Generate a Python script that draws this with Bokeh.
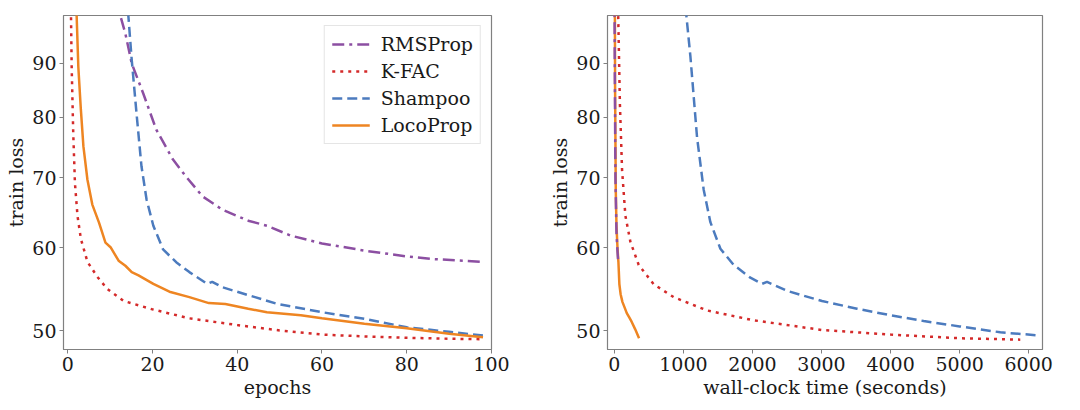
from bokeh.plotting import figure
from bokeh.layouts import row
from bokeh.models import Range1d, FixedTicker, PrintfTickFormatter
from bokeh.embed import file_html
from bokeh.resources import INLINE

# ---------------- data: loss vs epochs ----------------
rms_ep = [12.0, 12.4, 13.6, 15.1, 17.8, 20.9, 24.8, 27.9, 31.8, 36.4, 42.6, 47, 52.6, 60, 70.6, 80, 86.3, 98]
rms_loss = [105, 100, 96.1, 90, 84.3, 77.8, 72.9, 70.2, 67.2, 65.3, 63.7, 63.0, 61.65, 60.6, 59.6, 58.9, 58.55, 58.2]

kfac_ep = [0.7, 0.93, 1.3, 1.7, 2.3, 3.1, 4.65, 7.0, 9.3, 13.2, 20.2, 28.7, 40, 50, 60, 70, 80, 90, 98]
kfac_loss = [105, 89.3, 77.2, 69.2, 64.4, 61.2, 58.2, 56.3, 54.85, 53.4, 52.4, 51.4, 50.65, 50.05, 49.6, 49.4, 49.25, 49.15, 49.1]

sham_ep = [13.8, 14.3, 15.1, 16.3, 17.4, 18.6, 20.2, 22.5, 25.6, 28.7, 32.9, 34.1, 36.4, 44.2, 49.5, 60, 70.6, 80, 90, 98]
sham_loss = [115, 100, 90.7, 80.1, 71.8, 66.75, 63.0, 59.8, 58.15, 56.9, 55.45, 55.7, 55.05, 53.85, 53.05, 52.1, 51.3, 50.4, 49.9, 49.5]

loco_ep = [1.8, 2.1, 2.5, 3.1, 3.7, 4.65, 5.8, 7.4, 8.9, 10.1, 12, 13.6, 15.1, 16.7, 20.2, 24, 28.7, 33.3, 37.2, 42.6, 47, 55, 60, 70, 80, 90, 98]
loco_loss = [115, 100, 89.3, 81.3, 75.0, 69.7, 66.0, 63.4, 60.7, 60.1, 58.35, 57.7, 56.9, 56.5, 55.45, 54.5, 53.85, 53.15, 53.05, 52.5, 52.1, 51.75, 51.4, 50.8, 50.3, 49.7, 49.3]

# ---------------- data: loss vs wall-clock time ----------------
rms_t = [0, 5, 15, 30, 45, 55]
rms_tloss = [110, 90, 70, 62, 59.5, 58.2]

kfac_t = [40, 55, 80, 111, 159, 232, 352, 569, 859, 1342, 2003, 3007, 4001, 5000, 5878]
kfac_tloss = [130, 100, 82.2, 71.2, 64.4, 60.8, 57.8, 55.4, 53.85, 52.3, 51.2, 50.1, 49.6, 49.2, 49.05]

sham_t = [1000, 1042, 1100, 1197, 1293, 1390, 1535, 1728, 1969, 2138, 2210, 2500, 3007, 3514, 4001, 4479, 5000, 5589, 6154]
sham_tloss = [120, 100, 91.5, 76.5, 68.2, 63.5, 59.9, 57.8, 56.2, 55.45, 55.7, 54.6, 53.4, 52.5, 51.75, 51.1, 50.5, 49.85, 49.5]

loco_t = [4, 10, 20, 30, 45, 58, 72, 90, 116, 150, 179, 215, 251, 300, 357]
loco_tloss = [120, 85, 68, 63, 60, 58.2, 55.4, 54.2, 53.3, 52.6, 52.0, 51.5, 51.0, 50.2, 49.2]

y_ticks = [50, 60, 70, 80, 90]
x_ticks_ep = [0, 20, 40, 60, 80, 100]
x_ticks_t = [0, 1000, 2000, 3000, 4000, 5000, 6000]

C_RMS = "#8c4fa2"
C_KFAC = "#d42a2a"
C_SHAM = "#4c7bbe"
C_LOCO = "#ee8522"
FONT = "DejaVu Serif"
FS = "19px"
GREY = "#808080"
LW = 2.5
D_RMS = "12 5 3 5"
D_KFAC = "3 5"
D_SHAM = "10 5"


def style(p, xlabel, xticks):
    p.outline_line_color = GREY
    p.outline_line_width = 1.2
    p.xgrid.visible = False
    p.ygrid.visible = False
    for ax in (p.xaxis[0], p.yaxis[0]):
        ax.axis_line_color = GREY
        ax.major_tick_line_color = GREY
        ax.minor_tick_line_color = None
        ax.major_tick_out = 4
        ax.major_tick_in = 0
        ax.major_label_text_font = FONT
        ax.major_label_text_font_size = FS
        ax.major_label_text_color = "#1a1a1a"
        ax.axis_label_text_font = FONT
        ax.axis_label_text_font_size = FS
        ax.axis_label_text_font_style = "normal"
        ax.axis_label_text_color = "#1a1a1a"
    p.xaxis[0].ticker = FixedTicker(ticks=xticks)
    p.xaxis[0].axis_label = xlabel
    p.xaxis[0].major_label_standoff = 3
    p.xaxis[0].axis_label_standoff = 2
    p.yaxis[0].ticker = FixedTicker(ticks=y_ticks)
    p.yaxis[0].formatter = PrintfTickFormatter(format="%d")
    p.yaxis[0].axis_label = "train loss"
    p.yaxis[0].major_label_standoff = 3
    p.yaxis[0].axis_label_standoff = 2


p1 = figure(width=540, height=400, y_axis_type="log",
            x_range=Range1d(-1, 100), y_range=Range1d(48, 100),
            output_backend="svg", toolbar_location=None,
            min_border_left=63, min_border_right=49, min_border_top=15, min_border_bottom=49)
style(p1, "epochs", x_ticks_ep)
p1.line(rms_ep, rms_loss, color=C_RMS, line_width=LW, line_dash=D_RMS, legend_label="RMSProp")
p1.line(kfac_ep, kfac_loss, color=C_KFAC, line_width=LW, line_dash=D_KFAC, legend_label="K-FAC")
p1.line(sham_ep, sham_loss, color=C_SHAM, line_width=LW, line_dash=D_SHAM, legend_label="Shampoo")
p1.line(loco_ep, loco_loss, color=C_LOCO, line_width=LW, legend_label="LocoProp")

lg = p1.legend[0]
lg.location = "top_right"
lg.margin = 10
lg.padding = 7
lg.spacing = 5
lg.label_height = 22
lg.glyph_width = 38
lg.glyph_height = 20
lg.label_standoff = 11
lg.label_text_font = FONT
lg.label_text_font_size = FS
lg.label_text_color = "#1a1a1a"
lg.border_line_color = "#cccccc"
lg.background_fill_alpha = 0.85

p2 = figure(width=532, height=400, y_axis_type="log",
            x_range=Range1d(-100, 6200), y_range=Range1d(48, 100),
            output_backend="svg", toolbar_location=None,
            min_border_left=67, min_border_right=30, min_border_top=9, min_border_bottom=50)
style(p2, "wall-clock time (seconds)", x_ticks_t)
p2.line(loco_t, loco_tloss, color=C_LOCO, line_width=LW)
p2.line(rms_t, rms_tloss, color=C_RMS, line_width=LW, line_dash=D_RMS)
p2.line(kfac_t, kfac_tloss, color=C_KFAC, line_width=LW, line_dash=D_KFAC)
p2.line(sham_t, sham_tloss, color=C_SHAM, line_width=LW, line_dash=D_SHAM)

layout = row(p1, p2, spacing=0)
open("out.html", "w").write(file_html(layout, INLINE))
